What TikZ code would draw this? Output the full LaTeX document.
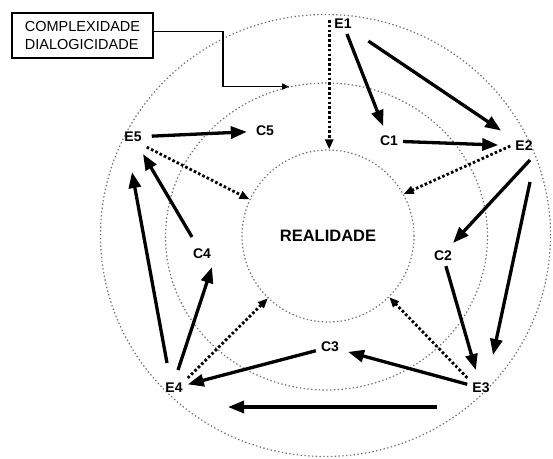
\documentclass[tikz,border=0pt]{standalone}
\usepackage{fontspec}
\setmainfont{Liberation Sans}
\usetikzlibrary{arrows.meta,shapes.geometric}
\definecolor{ringgray}{RGB}{115,115,115}

\begin{document}
\begin{tikzpicture}[x=1pt,y=-1pt,
  every node/.style={font=\fontsize{14}{16}\selectfont\bfseries},
  stage/.style={inner sep=5pt},
  ring/.style={draw=ringgray,line width=1.2pt,dash pattern=on 1.4pt off 2.4pt,
               inner sep=0pt},
  arrow/.style={-{Triangle[length=16pt,width=12pt]},line width=3.3pt},
  dotted_arrow/.style={-{Triangle[length=10pt,width=8pt]},line width=2.8pt,
                       dash pattern=on 2.6pt off 2.2pt},
  link/.style={-{Triangle[length=7pt,width=6pt]},line width=1.6pt},
]
\useasboundingbox (0,0) rectangle (553,458);

% Rings
\node[ring,ellipse,minimum width=450pt,minimum height=442pt] (outer) at (325.5,235.5) {};
\node[ring,ellipse,minimum width=322pt,minimum height=307pt] (mid) at (326.5,236.5) {};
\node[ring,circle,minimum size=172pt,font=\fontsize{16.5}{18}\selectfont\bfseries]
      (real) at (328,236) {REALIDADE};

% Stages
\node[stage] (e1) at (343,24)  {E1};
\node[stage] (e2) at (524,146) {E2};
\node[stage] (e3) at (481,388) {E3};
\node[stage] (e4) at (174,388) {E4};
\node[stage] (e5) at (133,137) {E5};
\node[stage] (c1) at (389,141) {C1};
\node[stage] (c2) at (443,256) {C2};
\node[stage] (c3) at (330,347) {C3};
\node[stage] (c4) at (202,254) {C4};
\node[stage] (c5) at (265,131) {C5};

% Label box
\node[draw,line width=1.4pt,align=left,inner sep=0pt,minimum width=141pt,
      minimum height=45pt,font=\fontsize{14.5}{18}\selectfont] (box) at (82.5,35.5)
      {COMPLEXIDADE\\DIALOGICIDADE};
\draw[link] ([yshift=4pt]box.east) -- ++(69,0) |- (mid.104.3);

% Cycle arrows
\draw[arrow,shorten >=5pt] (e1) -- (c1);
\draw[arrow,shorten <=14pt,shorten >=11pt] (e1) -- (e2);
\draw[arrow,shorten >=12pt] (c1) -- (e2);
\draw[arrow] ([shift={(6,14)}]e2.center) -- ([shift={(10,-13)}]c2.center);
\draw[arrow] ([shift={(6,36)}]e2.center) -- ([shift={(12,-33)}]e3.center);
\draw[arrow,shorten >=8pt] (c2) -- (e3);
\draw[arrow,shorten >=4pt] (e3) -- (c3);
\draw[arrow] (c3) -- (e4);
\draw[arrow] ([shift={(-44,19)}]e3.center) -- ([shift={(54,19)}]e4.center);
\draw[arrow] ([shift={(4,-18)}]e4.center) -- ([shift={(10,13)}]c4.center);
\draw[arrow] ([shift={(-7,-25)}]e4.center) -- ([shift={(-1,35)}]e5.center);
\draw[arrow,shorten <=8pt,shorten >=8pt] (c4) -- (e5);
\draw[arrow,shorten <=5pt,shorten >=4pt] (e5) -- (c5);

% Arrows to reality
\draw[dotted_arrow] ([yshift=4pt]e1.west) -- (e1.west |- real.north);
\draw[dotted_arrow] (e2.west) -- (real.29);
\draw[dotted_arrow] (e3.north west) -- (real.315);
\draw[dotted_arrow] (e4.north east) -- (real.226);
\draw[dotted_arrow] (e5.south east) -- (real.155);

\end{tikzpicture}
\end{document}
